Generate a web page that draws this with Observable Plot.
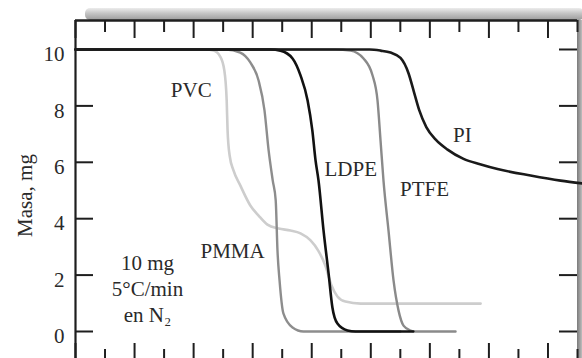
<!DOCTYPE html>
<html><head><meta charset="utf-8">
<script src="https://cdn.jsdelivr.net/npm/d3@7"></script>
<script src="https://cdn.jsdelivr.net/npm/@observablehq/plot@0.6"></script>
<style>html,body{margin:0;padding:0;background:#fff;}</style>
</head><body><div id="chart"></div>
<script>
// ---- data (temperature in arbitrary °C scale, mass in mg) ----
const pvcT  = [100, 320, 334, 345, 352, 356, 357.5, 361, 367.5, 379, 396, 410, 425, 444, 464, 481, 498, 511, 523, 533.5, 543.5, 557, 583, 786];
const pvcM  = [10, 10, 9.96, 9.75, 9.26, 8.19, 7.13, 6.24, 5.71, 5.18, 4.47, 4.11, 3.79, 3.65, 3.58, 3.48, 3.23, 2.87, 2.34, 1.63, 1.24, 1.06, 0.99, 0.99];
const pmmaT = [100, 355, 379, 396, 410, 420, 427, 434, 439, 442, 445.5, 452, 467.5, 486, 650];
const pmmaM = [10, 10, 9.89, 9.54, 8.9, 7.84, 6.42, 5.35, 4.65, 2.87, 1.81, 0.64, 0.14, 0, 0];
const ldpeT = [100, 430, 447, 467.5, 481, 493, 501, 506.5, 511.5, 520, 528.5, 535, 543.5, 560.5, 574, 672];
const ldpeM = [10, 10, 9.96, 9.68, 9.08, 8.19, 7.13, 6.06, 5.35, 3.58, 2.06, 0.85, 0.28, 0.035, 0, 0];
const ptfeT = [100, 540, 565.7, 587.7, 603, 611.4, 616.5, 621.5, 630, 638.5, 647, 655.4, 667.3, 675.7, 743.5];
const ptfeM = [10, 10, 9.96, 9.68, 9.08, 8.19, 6.77, 5.35, 3.58, 1.81, 0.74, 0.21, 0.035, 0, 0];
const piT   = [100, 598, 616.5, 633.4, 650.3, 664, 673, 682, 694, 710, 730, 757, 785, 814.6, 870.5, 921.3, 958.5];
const piM   = [10, 10, 9.96, 9.89, 9.7, 9.15, 8.5, 7.85, 7.25, 6.8, 6.45, 6.12, 5.93, 5.76, 5.53, 5.35, 5.25];

const yTicks = [0, 2, 4, 6, 8, 10];
const xTicks = [100,150,200,250,300,350,400,450,500,550,600,650,700,750,800,850,900,950];

const labelNames = ["PVC", "PMMA", "LDPE", "PTFE", "PI"];
const labelT     = [296, 366, 566, 691, 755];
const labelM     = [8.55, 2.84, 5.74, 5.04, 6.95];

const noteText = "10 mg\n5°C/min\nen N₂";
const yLabel = "Masa, mg";

// ---- scales ----
const X_DOMAIN = [100, 950], X_RANGE = [75, 577];
const Y_DOMAIN = [-1.064, 11.028], Y_RANGE = [361, 20];
const kx = (X_RANGE[1] - X_RANGE[0]) / (X_DOMAIN[1] - X_DOMAIN[0]);
const ky = (Y_RANGE[0] - Y_RANGE[1]) / (Y_DOMAIN[1] - Y_DOMAIN[0]);
const xOfPx = p => X_DOMAIN[0] + (p - X_RANGE[0]) / kx;
const yOfPx = p => Y_DOMAIN[0] + (Y_RANGE[0] - p) / ky;

const series = (T, M) => T.map((t, i) => ({T: t, m: M[i]}));
const pvc = series(pvcT, pvcM), pmma = series(pmmaT, pmmaM), ldpe = series(ldpeT, ldpeM),
      ptfe = series(ptfeT, ptfeM), pi = series(piT, piM);
const labels = labelNames.map((n, i) => ({n, T: labelT[i], m: labelM[i]}));

const longLen = 18, shortLen = 12;
const isLong = t => t % 100 === 0;
const yMin = Y_DOMAIN[0], yMax = Y_DOMAIN[1];

const ink = "#1e1e1e";
const lineOpts = {x: "T", y: "m", curve: "monotone-x", strokeLinejoin: "round", strokeLinecap: "round"};

const plot = Plot.plot({
  width: 582, height: 358,
  marginLeft: 75, marginRight: 5, marginTop: 20, marginBottom: 0,
  style: {fontFamily: "'Liberation Serif', 'Times New Roman', serif", fontSize: "21px", background: "#fff", color: ink},
  x: {domain: X_DOMAIN, range: X_RANGE, axis: null},
  y: {domain: Y_DOMAIN, range: Y_RANGE, axis: null},
  marks: [
    // decorative top bar and right edge
    Plot.rect([0], {x1: () => xOfPx(85), x2: () => xOfPx(584), y1: () => yMax, y2: () => yOfPx(8), fill: "url(#barGrad)", rx: 5}),
    Plot.rect([0], {x1: () => X_DOMAIN[1], x2: () => xOfPx(584), y1: () => yMin, y2: () => yMax, fill: "url(#sideGrad)"}),
    // curves
    Plot.line(pvc,  {...lineOpts, stroke: "#cdcdcd", strokeWidth: 2.6}),
    Plot.line(pmma, {...lineOpts, stroke: "#8d8d8d", strokeWidth: 2.4}),
    Plot.line(ptfe, {...lineOpts, stroke: "#8a8a8a", strokeWidth: 2.4}),
    Plot.line(ldpe, {...lineOpts, stroke: "#111", strokeWidth: 2.6}),
    Plot.line(pi,   {...lineOpts, stroke: "#1a1a1a", strokeWidth: 2.6}),
    // frame lines
    Plot.ruleX([X_DOMAIN[0]], {y1: yMin, y2: yMax, stroke: ink, strokeWidth: 2.2}),
    Plot.ruleY([yMax], {x1: X_DOMAIN[0], x2: X_DOMAIN[1], stroke: ink, strokeWidth: 2.6}),
    // y ticks left and right (inward)
    Plot.ruleY(yTicks, {y: d => d, x1: X_DOMAIN[0], x2: X_DOMAIN[0] + longLen / kx, stroke: ink, strokeWidth: 2}),
    Plot.ruleY(yTicks, {y: d => d, x1: X_DOMAIN[1] - longLen / kx, x2: X_DOMAIN[1], stroke: ink, strokeWidth: 2}),
    // x ticks top and bottom (inward)
    Plot.ruleX(xTicks, {x: d => d, y1: yMax, y2: d => yMax - (isLong(d) ? longLen : shortLen) / ky, stroke: ink, strokeWidth: 2}),
    Plot.ruleX(xTicks, {x: d => d, y1: yMin, y2: d => yMin + (isLong(d) ? longLen : shortLen) / ky, stroke: ink, strokeWidth: 2}),
    // tick labels
    Plot.text(yTicks, {x: () => X_DOMAIN[0], y: d => d, text: d => String(d), textAnchor: "end", dx: -11, dy: 5, fontSize: 21, fill: "#2a2a2a"}),
    // axis title
    Plot.text([yLabel], {x: () => xOfPx(25), y: () => yOfPx(195), text: d => d, rotate: -90, fontSize: 21, fill: "#2a2a2a"}),
    // series labels
    Plot.text(labels, {x: "T", y: "m", text: "n", fontSize: 21, fill: "#2a2a2a"}),
    // conditions note
    Plot.text([noteText], {x: () => xOfPx(147), y: () => yOfPx(287), text: d => d, fontSize: 21, lineHeight: 1.24, fill: "#2a2a2a"})
  ]
});

const svg = d3.select(plot);
const defs = svg.insert("defs", ":first-child");
const g1 = defs.append("linearGradient").attr("id", "barGrad").attr("x1", 0).attr("y1", 0).attr("x2", 0).attr("y2", 1);
g1.append("stop").attr("offset", "0%").attr("stop-color", "#ececec");
g1.append("stop").attr("offset", "45%").attr("stop-color", "#c4c4c4");
g1.append("stop").attr("offset", "100%").attr("stop-color", "#9c9c9c");
const g2 = defs.append("linearGradient").attr("id", "sideGrad").attr("x1", 0).attr("y1", 0).attr("x2", 1).attr("y2", 0);
g2.append("stop").attr("offset", "0%").attr("stop-color", "#7a7a7a");
g2.append("stop").attr("offset", "50%").attr("stop-color", "#a8a8a8");
g2.append("stop").attr("offset", "100%").attr("stop-color", "#dcdcdc");

document.getElementById("chart").appendChild(plot);
</script>
</body></html>
